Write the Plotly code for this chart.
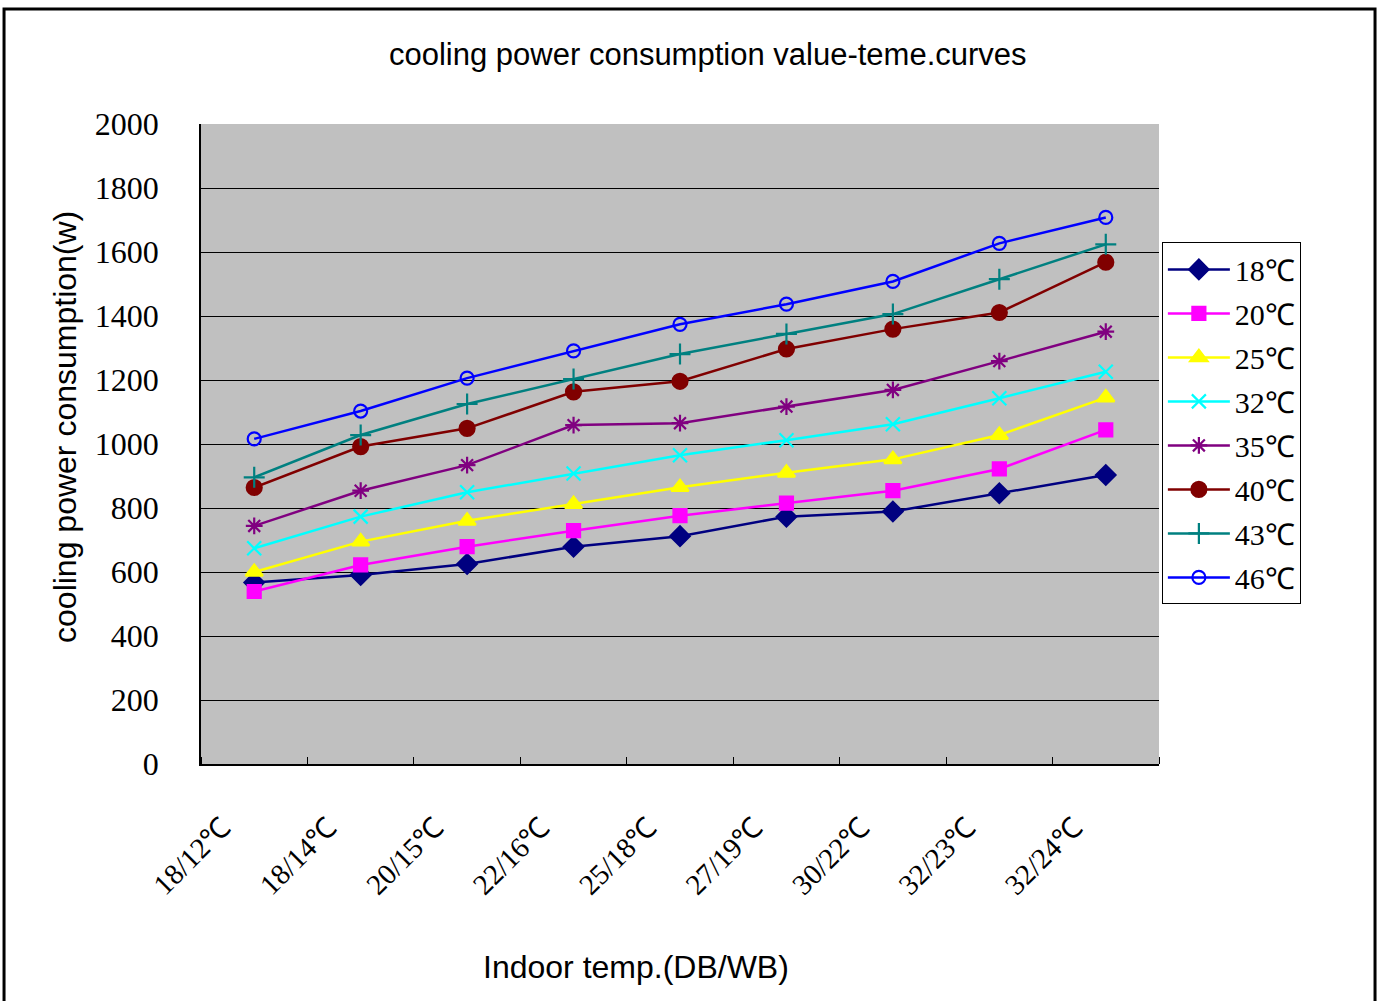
import plotly.graph_objects as go

# Indoor conditions (dry bulb / wet bulb)
categories = ["18/12℃", "18/14℃", "20/15℃", "22/16℃", "25/18℃",
              "27/19℃", "30/22℃", "32/23℃", "32/24℃"]

# Cooling power consumption (W) for each outdoor temperature
p18 = [567, 591, 625, 679, 712, 773, 789, 846, 903]
p20 = [539, 622, 679, 729, 776, 815, 854, 922, 1044]
p25 = [600, 695, 760, 812, 865, 910, 952, 1028, 1145]
p32 = [674, 773, 849, 908, 965, 1012, 1062, 1143, 1226]
p35 = [744, 854, 934, 1059, 1065, 1117, 1169, 1259, 1351]
p40 = [864, 992, 1049, 1163, 1196, 1297, 1359, 1411, 1568]
p43 = [896, 1028, 1125, 1203, 1281, 1344, 1406, 1515, 1624]
p46 = [1016, 1103, 1206, 1291, 1374, 1437, 1508, 1627, 1708]

series_names = ["18℃", "20℃", "25℃", "32℃", "35℃", "40℃", "43℃", "46℃"]
series_values = [p18, p20, p25, p32, p35, p40, p43, p46]

y_ticks = [0, 200, 400, 600, 800, 1000, 1200, 1400, 1600, 1800, 2000]

styles = [
    dict(color="#000080", symbol="diamond", size=15),
    dict(color="#FF00FF", symbol="square", size=13),
    dict(color="#FFFF00", symbol="triangle-up", size=15),
    dict(color="#00FFFF", symbol="x-thin-open", size=14),
    dict(color="#800080", symbol="asterisk-open", size=14),
    dict(color="#800000", symbol="circle", size=15),
    dict(color="#008080", symbol="cross-thin-open", size=15),
    dict(color="#0000FF", symbol="circle-open", size=13),
]

x = list(range(len(categories)))

fig = go.Figure()
for name, vals, st in zip(series_names, series_values, styles):
    fig.add_trace(go.Scatter(
        x=x, y=vals, name=name, mode="lines+markers",
        legendgroup=name,
        line=dict(color=st["color"], width=2.5),
        marker=dict(symbol=st["symbol"], size=st["size"], color=st["color"],
                    line=dict(color=st["color"], width=2.2)),
    ))

serif = "Liberation Serif, Times New Roman, serif"
sans = "Liberation Sans, Arial, sans-serif"

fig.update_layout(
    width=1379, height=1001,
    margin=dict(l=201, r=220, t=124, b=237),
    paper_bgcolor="white",
    plot_bgcolor="#C0C0C0",
    showlegend=True,
    legend=dict(
        x=1.003, y=0.815, xanchor="left", yanchor="top",
        bgcolor="white", bordercolor="black", borderwidth=1,
        font=dict(family=serif, size=30, color="black"),
        tracegroupgap=2, itemwidth=62,
    ),
    xaxis=dict(
        range=[-0.5, 8.5],
        tickmode="array",
        tickvals=[i - 0.3 for i in x],
        ticktext=categories,
        tickangle=-45,
        ticks="",
        ticklabelstandoff=33,
        tickfont=dict(family=serif, size=29, color="black"),
        showgrid=False, zeroline=False,
        showline=True, linecolor="black", linewidth=1.5,
        minor=dict(tickmode="array",
                   tickvals=[i + 0.5 for i in range(-1, len(categories))],
                   ticks="inside", ticklen=7, tickcolor="black", tickwidth=1,
                   showgrid=False),
    ),
    yaxis=dict(
        range=[0, 2000],
        tickmode="array", tickvals=y_ticks,
        ticks="inside", ticklen=6, tickcolor="black",
        ticklabelstandoff=34,
        tickfont=dict(family=serif, size=32, color="black"),
        showgrid=True, gridcolor="black", gridwidth=1,
        zeroline=False,
        showline=True, linecolor="black", linewidth=1.5,
    ),
)

fig.add_annotation(
    text="cooling power consumption value-teme.curves",
    xref="paper", yref="paper", x=0.529, y=1.109,
    xanchor="center", yanchor="middle",
    showarrow=False, font=dict(family=sans, size=31, color="black"),
)
fig.add_annotation(
    text="cooling power consumption(w)",
    xref="paper", yref="paper", x=-0.142, y=0.5266, textangle=-90,
    xanchor="center", yanchor="middle",
    showarrow=False, font=dict(family=sans, size=32, color="black"),
)
fig.add_annotation(
    text="Indoor temp.(DB/WB)",
    xref="paper", yref="paper", x=0.454, y=-0.317,
    xanchor="center", yanchor="middle",
    showarrow=False, font=dict(family=sans, size=32, color="black"),
)

# Outer frame around the whole chart
fig.add_shape(
    type="rect", xref="paper", yref="paper",
    x0=-0.2056, x1=1.2255, y0=-0.40, y1=1.1797,
    line=dict(color="black", width=3), fillcolor="rgba(0,0,0,0)", layer="above",
)

fig.write_html("out.html")
